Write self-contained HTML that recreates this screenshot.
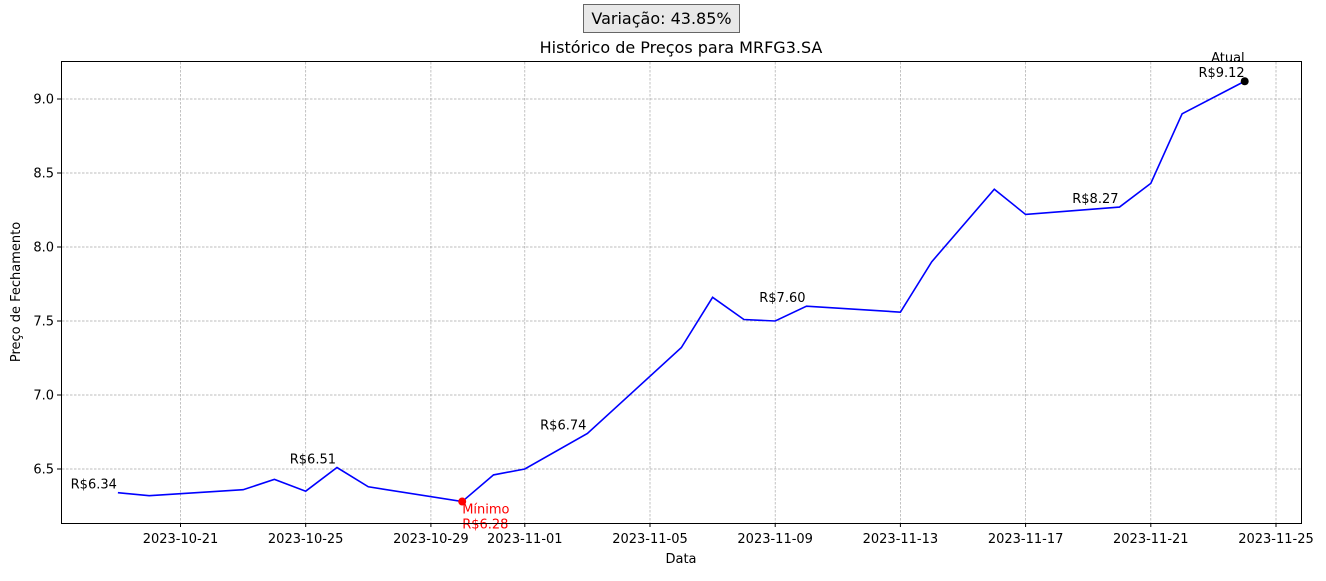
<!DOCTYPE html>
<html><head><meta charset="utf-8">
<style>
body{margin:0;background:#fff;width:1326px;height:576px;overflow:hidden;font-family:"Liberation Sans","DejaVu Sans",sans-serif}
text{font-family:"DejaVu Sans","Liberation Sans",sans-serif}
</style></head>
<body>
<svg id="chart" width="1326" height="576" xmlns="http://www.w3.org/2000/svg">
<g>
<rect x="583.5" y="4.5" width="156" height="28" fill="#e8e8e8" stroke="#666" stroke-width="1"/>
<text x="661.5" y="24" font-size="16" text-anchor="middle" fill="#000">Variação: 43.85%</text>
</g>
<text x="681" y="53" font-size="16" text-anchor="middle">Histórico de Preços para MRFG3.SA</text>
<g id="grid"></g>
<g id="axes"></g>
<g id="series"></g>
<rect x="61.5" y="61.5" width="1240" height="462" fill="none" stroke="#000" stroke-width="1"/>
<text x="681" y="563" font-size="13" text-anchor="middle">Data</text>
<text transform="translate(20,292) rotate(-90)" font-size="13" text-anchor="middle">Preço de Fechamento</text>
</svg>
<script>
const dates=["2023-10-19","2023-10-20","2023-10-23","2023-10-24","2023-10-25","2023-10-26","2023-10-27","2023-10-30","2023-10-31","2023-11-01","2023-11-03","2023-11-06","2023-11-07","2023-11-08","2023-11-09","2023-11-10","2023-11-13","2023-11-14","2023-11-16","2023-11-17","2023-11-20","2023-11-21","2023-11-22","2023-11-24"];
const prices=[6.34,6.32,6.36,6.43,6.35,6.51,6.38,6.28,6.46,6.50,6.74,7.32,7.66,7.51,7.50,7.60,7.56,7.90,8.39,8.22,8.27,8.43,8.90,9.12];
const xTicks=["2023-10-21","2023-10-25","2023-10-29","2023-11-01","2023-11-05","2023-11-09","2023-11-13","2023-11-17","2023-11-21","2023-11-25"];
const yTicks=[6.5,7.0,7.5,8.0,8.5,9.0];
const NS="http://www.w3.org/2000/svg";
const day=d=>Date.UTC(+d.slice(0,4),+d.slice(5,7)-1,+d.slice(8,10))/864e5;
const d0=day("2023-10-21");
const X=d=>180.5+(day(d)-d0)*31.3;
const Y=v=>99+(9-v)*148;
function mk(t,a,p){const e=document.createElementNS(NS,t);for(const k in a)e.setAttribute(k,a[k]);p.appendChild(e);return e;}
const grid=document.getElementById('grid'),axes=document.getElementById('axes'),ser=document.getElementById('series');
xTicks.forEach(t=>{const x=X(t);
 const g=mk('line',{x1:x,x2:x,y1:62,y2:523,stroke:'#a8a8a8','stroke-width':0.7,'stroke-dasharray':'2.5,1.5'},grid);
 
 mk('line',{x1:x,x2:x,y1:523,y2:527,stroke:'#000'},axes);
 const l=mk('text',{x:x,y:543,'font-size':13,'text-anchor':'middle'},axes);l.textContent=t;
 });
yTicks.forEach(t=>{const y=Y(t);
 const g=mk('line',{x1:62,x2:1301,y1:y,y2:y,stroke:'#a8a8a8','stroke-width':0.7,'stroke-dasharray':'2.5,1.5'},grid);
 
 mk('line',{x1:57,x2:61,y1:y,y2:y,stroke:'#000'},axes);
 const l=mk('text',{x:54,y:y+4.5,'font-size':13,'text-anchor':'end'},axes);l.textContent=t.toFixed(1);
 });
const line=mk('polyline',{points:dates.map((d,i)=>X(d)+','+Y(prices[i])).join(' '),fill:'none',stroke:'#0000ff','stroke-width':1.6},ser);

for(let i=0;i<dates.length-1;i+=5){const a=mk('text',{x:X(dates[i])-1,y:Y(prices[i])-4,'font-size':13,'text-anchor':'end'},ser);
 a.textContent='R$'+prices[i].toFixed(2);}
let mi=prices.indexOf(Math.min(...prices));
const mp=mk('circle',{cx:X(dates[mi]),cy:Y(prices[mi]),r:4,fill:'red'},ser);

const mt=mk('text',{x:X(dates[mi]),y:Y(prices[mi])+12,'font-size':13,fill:'red'},ser);

mt.innerHTML='<tspan x="'+X(dates[mi])+'">Mínimo</tspan><tspan x="'+X(dates[mi])+'" dy="15">R$'+prices[mi].toFixed(2)+'</tspan>';
const li=prices.length-1;
const lp=mk('circle',{cx:X(dates[li]),cy:Y(prices[li]),r:4,fill:'#000'},ser);

const lt=mk('text',{x:X(dates[li]),y:Y(prices[li])-19,'font-size':13,'text-anchor':'end'},ser);

lt.innerHTML='<tspan x="'+X(dates[li])+'">Atual</tspan><tspan x="'+X(dates[li])+'" dy="15">R$'+prices[li].toFixed(2)+'</tspan>';
</script>
</body></html>
